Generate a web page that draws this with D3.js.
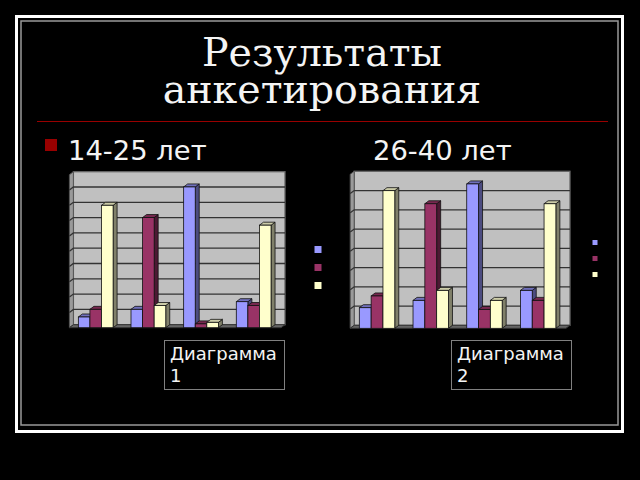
<!DOCTYPE html>
<html>
<head>
<meta charset="utf-8">
<script src="https://cdn.jsdelivr.net/npm/d3@7"></script>
<style>
html, body { margin: 0; padding: 0; background: #000; overflow: hidden; }
text { font-family: "DejaVu Sans", sans-serif; fill: #f4f4f4; }
</style>
</head>
<body>
<svg id="slide" width="640" height="480"></svg>
<script>
var titleLines = ["Результаты", "анкетирования"];
var categories = ["1", "2", "3", "4"];
var seriesNames = ["a", "b", "c"];
var seriesColors = ["#9999ff", "#993366", "#ffffcc"];
var sideColors = ["#4c4c80", "#4c1933", "#80806a"];
var topColors = ["#7070bb", "#77284f", "#cccca8"];

// first chart
var left1 = [0.7, 1.2, 9.2, 1.7];
var mid1 = [1.2, 7.2, 0.25, 1.45];
var right1 = [8.0, 1.45, 0.35, 6.7];
var ticks1 = [0, 1, 2, 3, 4, 5, 6, 7, 8, 9, 10];

// second chart
var left2 = [1.07, 1.45, 7.5, 1.97];
var mid2 = [1.68, 6.47, 0.98, 1.45];
var right2 = [7.15, 1.97, 1.45, 6.47];
var ticks2 = [0, 1, 2, 3, 4, 5, 6, 7, 8];

var svg = d3.select("#slide");

//Slide frame
svg.append("rect").attr("x", 16.5).attr("y", 16.5).attr("width", 606).attr("height", 415)
  .attr("fill", "none").attr("stroke", "#fff").attr("stroke-width", 3);
svg.append("rect").attr("x", 21).attr("y", 21).attr("width", 597).attr("height", 404)
  .attr("fill", "none").attr("stroke", "#999").attr("stroke-width", 1.5);

//Title and rule
var title = svg.append("text")
  .attr("text-anchor", "middle")
  .style("font-family", "'DejaVu Serif', serif")
  .style("font-size", "39.5px");
title.selectAll("tspan").data(titleLines).enter().append("tspan")
  .attr("x", 322)
  .attr("y", function(d, i) { return 66 + i * 37; })
  .text(function(d) { return d; });
svg.append("line").attr("x1", 37).attr("x2", 608).attr("y1", 121.5).attr("y2", 121.5)
  .attr("stroke", "#990000");

//Bullet and heading
svg.append("rect").attr("x", 45).attr("y", 139).attr("width", 12).attr("height", 12).attr("fill", "#990000");
svg.append("text").attr("x", 68).attr("y", 160).style("font-size", "27.4px").text("14-25 лет");
svg.append("text").attr("x", 373).attr("y", 160).style("font-size", "27.4px").text("26-40 лет");

//Draws one 3D column chart on a grey wall
function drawChart(opts) {
  var g = svg.append("g");
  var dx = 4, dy = 3;
  var top = opts.ticks[opts.ticks.length - 1];
  var y = d3.scaleLinear().domain([0, top]).range([opts.base, opts.base - opts.height]);
  var x0 = d3.scaleBand().domain(categories).range([opts.x0, opts.x1]).paddingInner(0.34).paddingOuter(0.17);
  var x1 = d3.scaleBand().domain(seriesNames).range([0, x0.bandwidth()]);

  //Back wall, side wall and floor
  var l = opts.x0, r = opts.x1 + dx + 1, b = opts.base, t = y(top);
  g.append("rect").attr("x", l + dx).attr("y", t - dy).attr("width", r - l - dx).attr("height", b - t)
    .attr("fill", "#c0c0c0").attr("stroke", "#666").attr("stroke-width", 1.3);
  g.append("path")
    .attr("d", "M" + l + " " + t + "L" + (l + dx) + " " + (t - dy) + "L" + (l + dx) + " " + (b - dy) + "L" + l + " " + b + "Z")
    .attr("fill", "#9a9a9a").attr("stroke", "#555");
  g.append("path")
    .attr("d", "M" + l + " " + b + "L" + (l + dx) + " " + (b - dy) + "L" + r + " " + (b - dy) + "L" + (r - dx) + " " + b + "Z")
    .attr("fill", "#666").attr("stroke", "#333");

  //Grid lines on the wall, with the bend on the side wall
  g.selectAll(".grid").data(opts.ticks.slice(1, -1)).enter().append("path")
    .attr("d", function(d) {
      var v = y(d);
      return "M" + l + " " + v + "L" + (l + dx) + " " + (v - dy) + "L" + r + " " + (v - dy);
    })
    .attr("fill", "none").attr("stroke", "#333").attr("stroke-width", 1.3);

  //Columns, one group per series
  opts.series.forEach(function(values, s) {
    var name = seriesNames[s];
    var bars = g.selectAll(".bar" + s).data(values).enter().append("g").attr("class", "bar" + s);
    var bx = function(i) { return x0(categories[i]) + x1(name); };
    var w = x1.bandwidth();
    bars.append("path")
      .attr("d", function(d, i) {
        var a = bx(i) + w, h = y(d);
        return "M" + a + " " + h + "L" + (a + dx) + " " + (h - dy) + "L" + (a + dx) + " " + (opts.base - dy) + "L" + a + " " + opts.base + "Z";
      })
      .attr("fill", sideColors[s]).attr("stroke", "#111").attr("stroke-width", 0.8);
    bars.append("path")
      .attr("d", function(d, i) {
        var a = bx(i), h = y(d);
        return "M" + a + " " + h + "L" + (a + dx) + " " + (h - dy) + "L" + (a + w + dx) + " " + (h - dy) + "L" + (a + w) + " " + h + "Z";
      })
      .attr("fill", topColors[s]).attr("stroke", "#111").attr("stroke-width", 0.8);
    bars.append("rect")
      .attr("x", function(d, i) { return bx(i); })
      .attr("y", function(d) { return y(d); })
      .attr("width", w)
      .attr("height", function(d) { return opts.base - y(d); })
      .attr("fill", seriesColors[s]).attr("stroke", "#111").attr("stroke-width", 0.8);
  });

  //Legend keys with no labels
  g.selectAll(".key").data(seriesColors).enter().append("rect")
    .attr("x", opts.keyX)
    .attr("y", function(d, i) { return opts.keyY + i * opts.keyStep; })
    .attr("width", opts.keySize)
    .attr("height", opts.keySize)
    .attr("fill", function(d) { return d; });

  //Caption box
  g.append("rect").attr("x", opts.boxX + 0.5).attr("y", 340.5).attr("width", opts.boxW).attr("height", 49)
    .attr("fill", "#000").attr("stroke", "#808080");
  var cap = g.append("text").style("font-size", "18px");
  cap.selectAll("tspan").data(opts.caption).enter().append("tspan")
    .attr("x", opts.boxX + 6)
    .attr("y", function(d, i) { return 360 + i * 22; })
    .text(function(d) { return d; });
}

drawChart({ series: [left1, mid1, right1], ticks: ticks1, base: 327.7, height: 153, x0: 69.4, x1: 280,
  keyX: 314.5, keyY: 246, keyStep: 18, keySize: 7, boxX: 164, boxW: 120, caption: ["Диаграмма", "1"] });
drawChart({ series: [left2, mid2, right2], ticks: ticks2, base: 328.3, height: 154, x0: 350.2, x1: 565,
  keyX: 592.5, keyY: 240, keyStep: 16, keySize: 5, boxX: 451, boxW: 120, caption: ["Диаграмма", "2"] });
</script>
</body>
</html>
